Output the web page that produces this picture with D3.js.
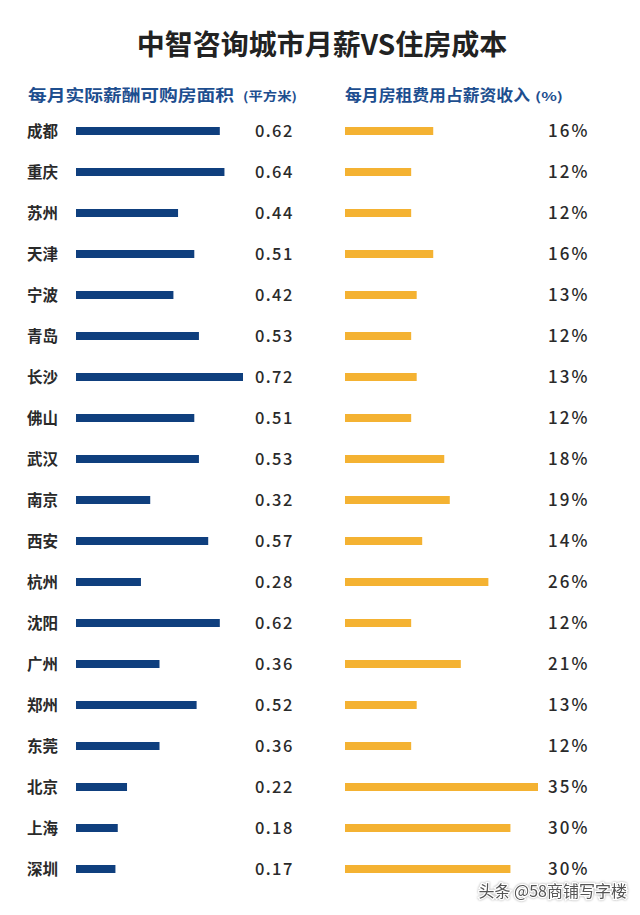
<!DOCTYPE html>
<html><head><meta charset="utf-8">
<script src="https://cdn.jsdelivr.net/npm/d3@7/dist/d3.min.js"></script>
<style>html,body{margin:0;padding:0;background:#fff;}svg{display:block;}</style>
</head><body>
<script>
const cities = ["成都","重庆","苏州","天津","宁波","青岛","长沙","佛山","武汉","南京","西安","杭州","沈阳","广州","郑州","东莞","北京","上海","深圳"];
const area = [0.62,0.64,0.44,0.51,0.42,0.53,0.72,0.51,0.53,0.32,0.57,0.28,0.62,0.36,0.52,0.36,0.22,0.18,0.17];
const rentPct = [16,12,12,16,13,12,13,12,18,19,14,26,12,21,13,12,35,30,30];
const title = "中智咨询城市月薪VS住房成本";
const leftHeader = "每月实际薪酬可购房面积";
const leftUnit = "(平方米)";
const rightHeader = "每月房租费用占薪资收入";
const rightUnit = "(%)";
const watermark = "头条 @58商铺写字楼";

const W = 640, H = 915;
const svg = d3.select("body").append("svg").attr("width", W).attr("height", H);
const font = "'Noto Sans CJK SC','Noto Sans',sans-serif";
const blue = "#0f3f7e", orange = "#f4b232", blueText = "#1d4e8f";

const y = d3.scalePoint().domain(cities).range([131, 869]);
const xL = d3.scaleLinear().domain([0, 0.72]).range([76, 243]);
const xR = d3.scaleLinear().domain([0, 35]).range([345, 538]);
const barH = 8;

svg.append("text").attr("x", 322).attr("y", 55).attr("text-anchor", "middle")
  .attr("font-family", font).attr("font-weight", 700).attr("font-size", 28).attr("fill", "#222").text(title);

function header(x, len, size, txt) {
  svg.append("text").attr("x", x).attr("y", 101).attr("font-family", font).attr("font-weight", 700)
    .attr("font-size", size).attr("fill", blueText)
    .attr("textLength", len).attr("lengthAdjust", "spacingAndGlyphs").text(txt);
}
header(28, 206, 16, leftHeader);
header(243, 54, 12, leftUnit);
header(345, 185, 16, rightHeader);
header(535, 28, 12, rightUnit);

const rows = svg.append("g").selectAll("g").data(cities).join("g");
rows.append("text").attr("x", 27).attr("y", d => y(d)).attr("dy", "0.36em")
  .attr("font-family", font).attr("font-weight", 700).attr("font-size", 15.5).attr("fill", "#2a2a2a").text(d => d);
rows.append("rect").attr("x", xL(0)).attr("y", d => y(d) - barH/2)
  .attr("width", (d,i) => xL(area[i]) - xL(0)).attr("height", barH).attr("fill", blue);
rows.append("text").attr("x", 255).attr("y", d => y(d)).attr("dy", "0.36em")
  .attr("font-family", font).attr("font-weight", 500).attr("font-size", 16.5).attr("letter-spacing", 1.4).attr("fill", "#2a2a2a")
  .text((d,i) => area[i].toFixed(2));
rows.append("rect").attr("x", xR(0)).attr("y", d => y(d) - barH/2)
  .attr("width", (d,i) => xR(rentPct[i]) - xR(0)).attr("height", barH).attr("fill", orange);
rows.append("text").attr("x", 548).attr("y", d => y(d)).attr("dy", "0.36em")
  .attr("font-family", font).attr("font-weight", 500).attr("font-size", 17).attr("letter-spacing", 2).attr("fill", "#2a2a2a")
  .text((d,i) => rentPct[i] + "%");

svg.append("text").attr("x", 627).attr("y", 897).attr("text-anchor", "end")
  .attr("font-family", font).attr("font-size", 16).attr("fill", "#555")
  .attr("stroke", "#fff").attr("stroke-width", 2.5).attr("paint-order", "stroke")
  .style("filter", "drop-shadow(0 0 1px rgba(0,0,0,0.35))").text(watermark);
</script>
</body></html>
